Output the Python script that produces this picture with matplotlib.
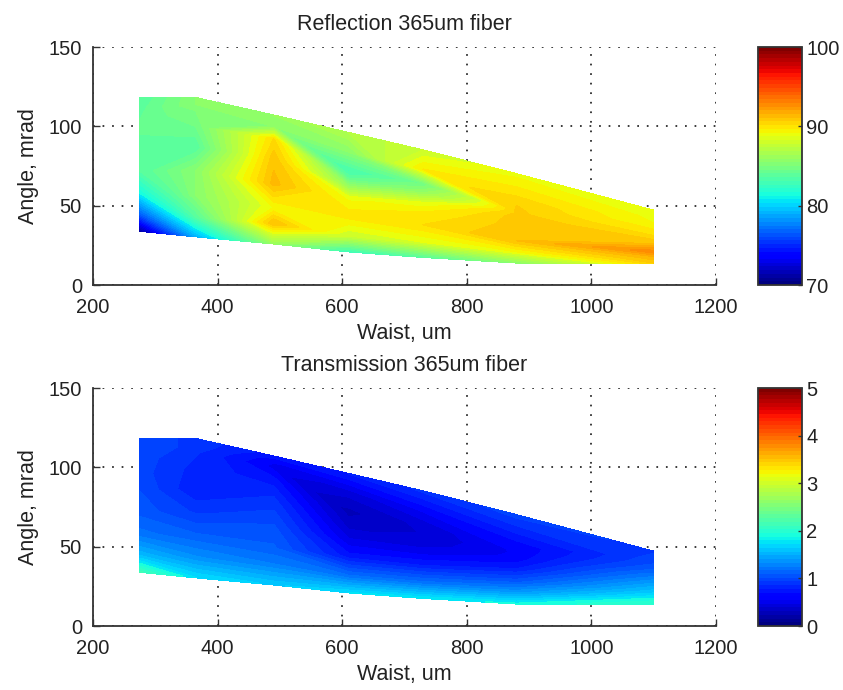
import numpy as np
import matplotlib
matplotlib.use("Agg")
import matplotlib.pyplot as plt
from matplotlib.cm import ScalarMappable
from matplotlib.colors import Normalize

plt.rcParams['font.family'] = ['Liberation Sans', 'DejaVu Sans']

waist = [275, 365, 490, 610, 730, 880, 1100]
angles = [
    [34, 45, 58, 72, 85, 95, 104, 111, 118],
    [30.5, 43, 57, 72, 87, 100, 110, 114, 118],
    [26, 39, 49, 64, 80, 92, 100, 104, 107],
    [21, 31, 44, 55, 62, 67, 72, 84, 96],
    [17.5, 27, 38, 46, 52, 58, 64, 73, 85],
    [14, 21, 28, 36, 42, 45, 47, 50, 70],
    [14, 18, 21, 26, 31, 35, 39, 43, 47],
]
reflection = [
    [71.0, 76.5, 81.0, 83.5, 84.0, 84.0, 84.0, 83.8, 83.5],
    [79.0, 83.5, 85.5, 85.5, 83.5, 84.5, 85.0, 85.5, 85.5],
    [86.0, 91.0, 89.0, 91.2, 90.8, 90.0, 85.5, 85.8, 86.0],
    [82.5, 88.0, 89.8, 88.8, 86.0, 84.0, 82.8, 85.5, 87.0],
    [83.5, 88.5, 90.0, 89.5, 88.5, 86.0, 84.5, 89.5, 88.0],
    [85.5, 89.0, 91.0, 90.8, 90.8, 90.6, 90.6, 90.5, 88.8],
    [90.5, 91.5, 92.8, 91.0, 90.0, 89.5, 89.0, 88.8, 88.7],
]
transmission = [
    [2.10, 1.55, 1.20, 1.05, 1.00, 0.95, 0.95, 0.95, 0.95],
    [1.75, 1.35, 1.10, 0.90, 0.75, 0.80, 0.85, 0.90, 0.90],
    [1.65, 1.25, 1.10, 1.00, 0.85, 0.70, 0.55, 0.60, 0.70],
    [1.75, 1.20, 0.70, 0.50, 0.40, 0.35, 0.30, 0.45, 0.75],
    [1.80, 1.20, 0.75, 0.55, 0.45, 0.42, 0.45, 0.60, 0.85],
    [1.85, 1.40, 1.05, 0.75, 0.62, 0.60, 0.60, 0.60, 0.95],
    [2.00, 1.80, 1.65, 1.45, 1.25, 1.10, 1.00, 0.95, 0.90],
]
titles = ["Reflection 365um fiber", "Transmission 365um fiber"]
ranges = [(70, 100), (0, 5)]
cb_ticks = [[70, 80, 90, 100], [0, 1, 2, 3, 4, 5]]
x_ticks = [200, 400, 600, 800, 1000, 1200]
y_ticks = [0, 50, 100, 150]

W, H = 843, 690
fig = plt.figure(figsize=(W / 100, H / 100), dpi=100)
cmap = plt.get_cmap('jet', 64)
Y = np.array(angles)
X = np.array(waist)[:, None] * np.ones(Y.shape)

def rect(x0, y0, x1, y1):
    return [x0 / W, 1 - y1 / H, (x1 - x0) / W, (y1 - y0) / H]

boxes = [(47, 285), (388, 626)]
FS = 14.5
LS = 15.5
for i, (top, bot) in enumerate(boxes):
    ax = fig.add_axes(rect(93, top, 716, bot))
    vmin, vmax = ranges[i]
    Z = np.array(reflection if i == 0 else transmission)
    levels = np.linspace(vmin, vmax, 61)
    cs = ax.contourf(X, Y, Z, levels=levels, cmap=cmap, vmin=vmin, vmax=vmax, zorder=2)
    cs.set_edgecolor('face')
    cs.set_linewidth(0.4)
    ax.set_xlim(200, 1200)
    ax.set_ylim(0, 150)
    ax.set_xticks(x_ticks)
    ax.set_yticks(y_ticks)
    ax.grid(True, color='#222222', linestyle=(0, (1, 4.5)), linewidth=1.25, zorder=1)
    ax.set_axisbelow(True)
    for s in ('top', 'right'):
        ax.spines[s].set_visible(False)
    for s in ('left', 'bottom'):
        ax.spines[s].set_color('#333333')
        ax.spines[s].set_linewidth(1.3)
    ax.tick_params(direction='in', length=5, width=1, labelsize=FS, color='#333333',
                   labelcolor='#222222')
    ax.tick_params(axis='x', pad=9)
    ax.tick_params(axis='y', pad=8)
    ax.set_xlabel("Waist, um", fontsize=LS, color='#222222', labelpad=5)
    ax.set_ylabel("Angle, mrad", fontsize=LS, color='#222222', labelpad=7)
    ax.set_title(titles[i], fontsize=LS, color='#222222', pad=12)

    cax = fig.add_axes(rect(758, top, 802, bot))
    cb = fig.colorbar(ScalarMappable(Normalize(vmin, vmax), cmap), cax=cax)
    cb.set_ticks(cb_ticks[i])
    cb.ax.tick_params(direction='in', length=3, width=1, labelsize=FS, color='#333333',
                      labelcolor='#222222', pad=3)
    cb.outline.set_edgecolor('#333333')
    cb.outline.set_linewidth(1.3)

fig.savefig("out.png", dpi=100)
